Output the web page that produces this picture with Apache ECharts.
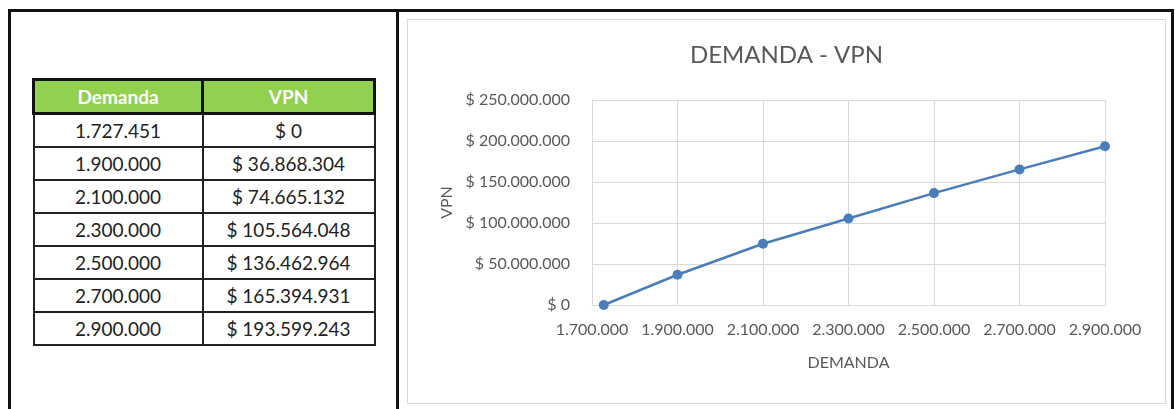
<!DOCTYPE html>
<html>
<head>
<meta charset="utf-8">
<script src="https://cdn.jsdelivr.net/npm/echarts@6/dist/echarts.min.js"></script>
<style>
  html, body { margin: 0; padding: 0; background: #fff; }
  body { width: 1175px; height: 409px; position: relative; overflow: hidden; font-family: Lato, "Liberation Sans", sans-serif; }
  .frame { position: absolute; border: 3px solid #111; box-sizing: border-box; }
  #tbl { position: absolute; left: 32px; top: 78px; width: 344px; border-collapse: collapse; table-layout: fixed; }
  #tbl th { background: #92d050; color: #fff; font-weight: bold; font-size: 19px; height: 31px; border: 3px solid #111; padding: 0; text-align: center; }
  #tbl td { color: #222; font-size: 19px; height: 31px; border: 2px solid #222; padding: 0; text-align: center; }
  #box { position: absolute; left: 407px; top: 19px; width: 759px; height: 385px; border: 1px solid #d9d9d9; box-sizing: border-box; }
  #chart { width: 100%; height: 100%; }
</style>
</head>
<body>
<div class="frame" style="left:8px; top:9px; width:391px; height:420px;"></div>
<div class="frame" style="left:396px; top:9px; width:778px; height:420px;"></div>
<table id="tbl"></table>
<div id="box"><div id="chart"></div></div>
<script>
const headers = ['Demanda', 'VPN'];
const demanda = [1727451, 1900000, 2100000, 2300000, 2500000, 2700000, 2900000];
const vpn = [0, 36868304, 74665132, 105564048, 136462964, 165394931, 193599243];
const xMin = 1700000, xMax = 2900000, xStep = 200000;
const yMin = 0, yMax = 250000000, yStep = 50000000;

const dots = v => Math.round(v).toString().replace(/\B(?=(\d{3})+(?!\d))/g, '.');
const money = v => '$ ' + dots(v);

// table
let html = '<tr><th style="width:166px">' + headers[0] + '</th><th>' + headers[1] + '</th></tr>';
demanda.forEach((d, i) => {
  html += '<tr><td>' + dots(d) + '</td><td>' + money(vpn[i]) + '</td></tr>';
});
document.getElementById('tbl').innerHTML = html;

const myChart = echarts.init(document.getElementById('chart'));
const txt = '#595959';
const gridColor = '#d9d9d9';

const option = {
  animation: false,
  textStyle: { fontFamily: 'Lato, "Liberation Sans", sans-serif' },
  title: {
    text: 'DEMANDA - VPN',
    left: 'center',
    top: 18,
    textStyle: { color: txt, fontSize: 24, fontWeight: 'normal' }
  },
  grid: { left: 184, right: 60, top: 80, bottom: 98 },
  xAxis: {
    type: 'value',
    min: xMin, max: xMax, interval: xStep,
    name: 'DEMANDA',
    nameLocation: 'middle',
    nameGap: 50,
    nameTextStyle: { color: txt, fontSize: 16 },
    axisLine: { show: true, lineStyle: { color: gridColor } },
    axisTick: { show: false },
    axisLabel: { color: txt, fontSize: 16, margin: 17, formatter: dots },
    splitLine: { show: true, lineStyle: { color: gridColor } }
  },
  yAxis: {
    type: 'value',
    min: yMin, max: yMax, interval: yStep,
    name: 'VPN',
    nameLocation: 'middle',
    nameGap: 136,
    nameTextStyle: { color: txt, fontSize: 16 },
    axisLine: { show: true, lineStyle: { color: gridColor } },
    axisTick: { show: false },
    axisLabel: { color: txt, fontSize: 16, margin: 22, formatter: money },
    splitLine: { show: true, lineStyle: { color: gridColor } }
  },
  series: [{
    name: 'VPN',
    type: 'line',
    data: demanda.map((d, i) => [d, vpn[i]]),
    symbol: 'circle',
    symbolSize: 10,
    lineStyle: { color: '#4a7ebb', width: 2.5 },
    itemStyle: { color: '#4a7ebb' }
  }]
};
myChart.setOption(option);
</script>
</body>
</html>
